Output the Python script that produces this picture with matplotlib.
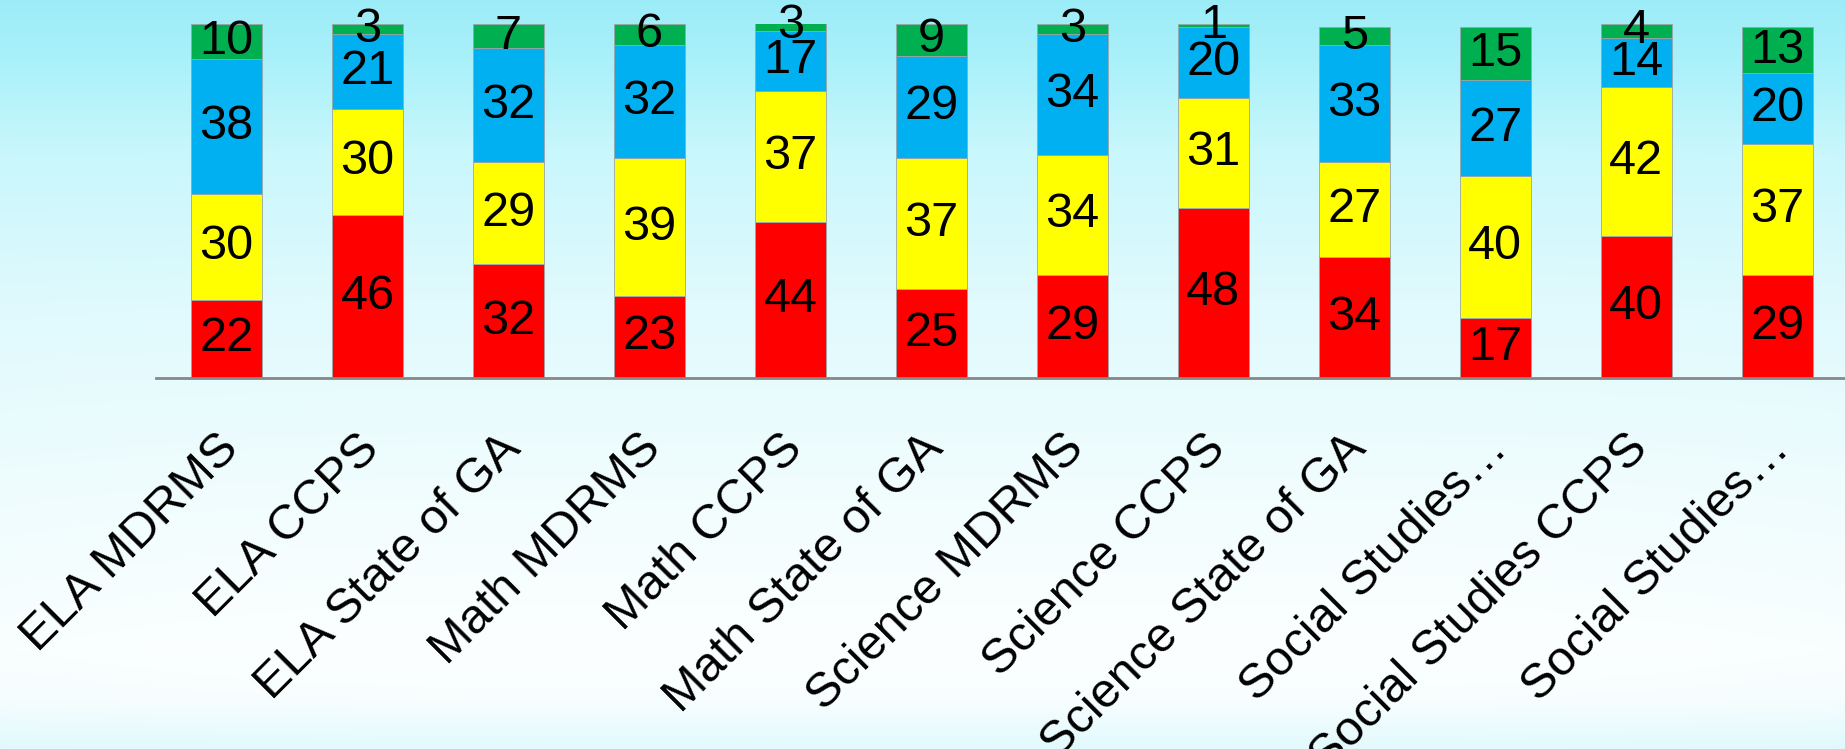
import numpy as np
import matplotlib
matplotlib.use("Agg")
import matplotlib.pyplot as plt
from matplotlib.transforms import blended_transform_factory, ScaledTranslation

plt.rcParams['font.family'] = ['Liberation Sans', 'DejaVu Sans']

categories = [
    "ELA MDRMS", "ELA CCPS", "ELA State of GA",
    "Math MDRMS", "Math CCPS", "Math State of GA",
    "Science MDRMS", "Science CCPS", "Science State of GA",
    "Social Studies\u2026", "Social Studies CCPS", "Social Studies\u2026",
]

# Performance levels, stacked bottom to top
level_1 = [22, 46, 32, 23, 44, 25, 29, 48, 34, 17, 40, 29]
level_2 = [30, 30, 29, 39, 37, 37, 34, 31, 27, 40, 42, 37]
level_3 = [38, 21, 32, 32, 17, 29, 34, 20, 33, 27, 14, 20]
level_4 = [10, 3, 7, 6, 3, 9, 3, 1, 5, 15, 4, 13]

series = [level_1, level_2, level_3, level_4]
colors = ["#ff0000", "#ffff00", "#00b0f0", "#00b050"]

W, H = 1845, 749
fig = plt.figure(figsize=(W / 100, H / 100), dpi=100)

# soft cyan backdrop
bg = fig.add_axes([0, 0, 1, 1], zorder=-10)
ys = np.array([0, 60, 150, 300, 500, 650, 700, 749]) / H
cols = np.array([
    (156, 236, 248), (170, 241, 250), (200, 247, 252), (224, 250, 253),
    (242, 253, 254), (252, 255, 255), (248, 254, 255), (226, 250, 253),
]) / 255.0
yy = np.linspace(0, 1, 400)
vert = np.stack([np.interp(yy, ys, cols[:, k]) for k in range(3)], axis=1)
xx = np.linspace(0, 1, 600)
edge = np.clip(1 - np.minimum(xx, 1 - xx) / 0.25, 0, 1) ** 2 * 0.06
cyan = np.array([200, 245, 252]) / 255.0
img = vert[:, None, :] * (1 - edge[None, :, None]) + cyan[None, None, :] * edge[None, :, None]
img = np.maximum(np.minimum(img, vert[:, None, :]), 0)
bg.imshow(img, aspect="auto", extent=[0, 1, 1, 0], interpolation="bilinear")
bg.set_xlim(0, 1)
bg.set_ylim(1, 0)
bg.axis("off")

left = 156 / W
bottom = (H - 377.7) / H
top = (H - 23.7) / H
ax = fig.add_axes([left, bottom, 1 - left, top - bottom])
ax.patch.set_alpha(0)

x = np.arange(len(categories))
base = np.zeros(len(categories))
for vals, c in zip(series, colors):
    vals = np.array(vals, dtype=float)
    ax.bar(x, vals, bottom=base, width=0.5, color=c, edgecolor="#9aa6aa",
           linewidth=0.6, zorder=2)
    for xi, b, v in zip(x, base, vals):
        ax.text(xi, b + v / 2, f"{int(v)}", ha="center", va="center",
                fontsize=35, color="black", zorder=3, clip_on=False)
    base += vals

ax.set_xlim(-0.5, 11.48)
ax.set_ylim(0, 100)
for s in ["top", "right", "left"]:
    ax.spines[s].set_visible(False)
ax.spines["bottom"].set_color("#888888")
ax.spines["bottom"].set_linewidth(2)
ax.set_yticks([])
ax.set_xticks(x)
ax.set_xticklabels([])
ax.tick_params(axis="x", length=0)

trans = blended_transform_factory(ax.transData, ax.transAxes)
for xi, lab in zip(x, categories):
    off = ScaledTranslation(5 / 100, -64 / 100, fig.dpi_scale_trans)
    ax.text(xi, 0, lab, transform=trans + off, rotation=45,
            rotation_mode="anchor", ha="right", va="center", fontsize=35,
            color="black", clip_on=False)

fig.savefig("out.png", dpi=100)
